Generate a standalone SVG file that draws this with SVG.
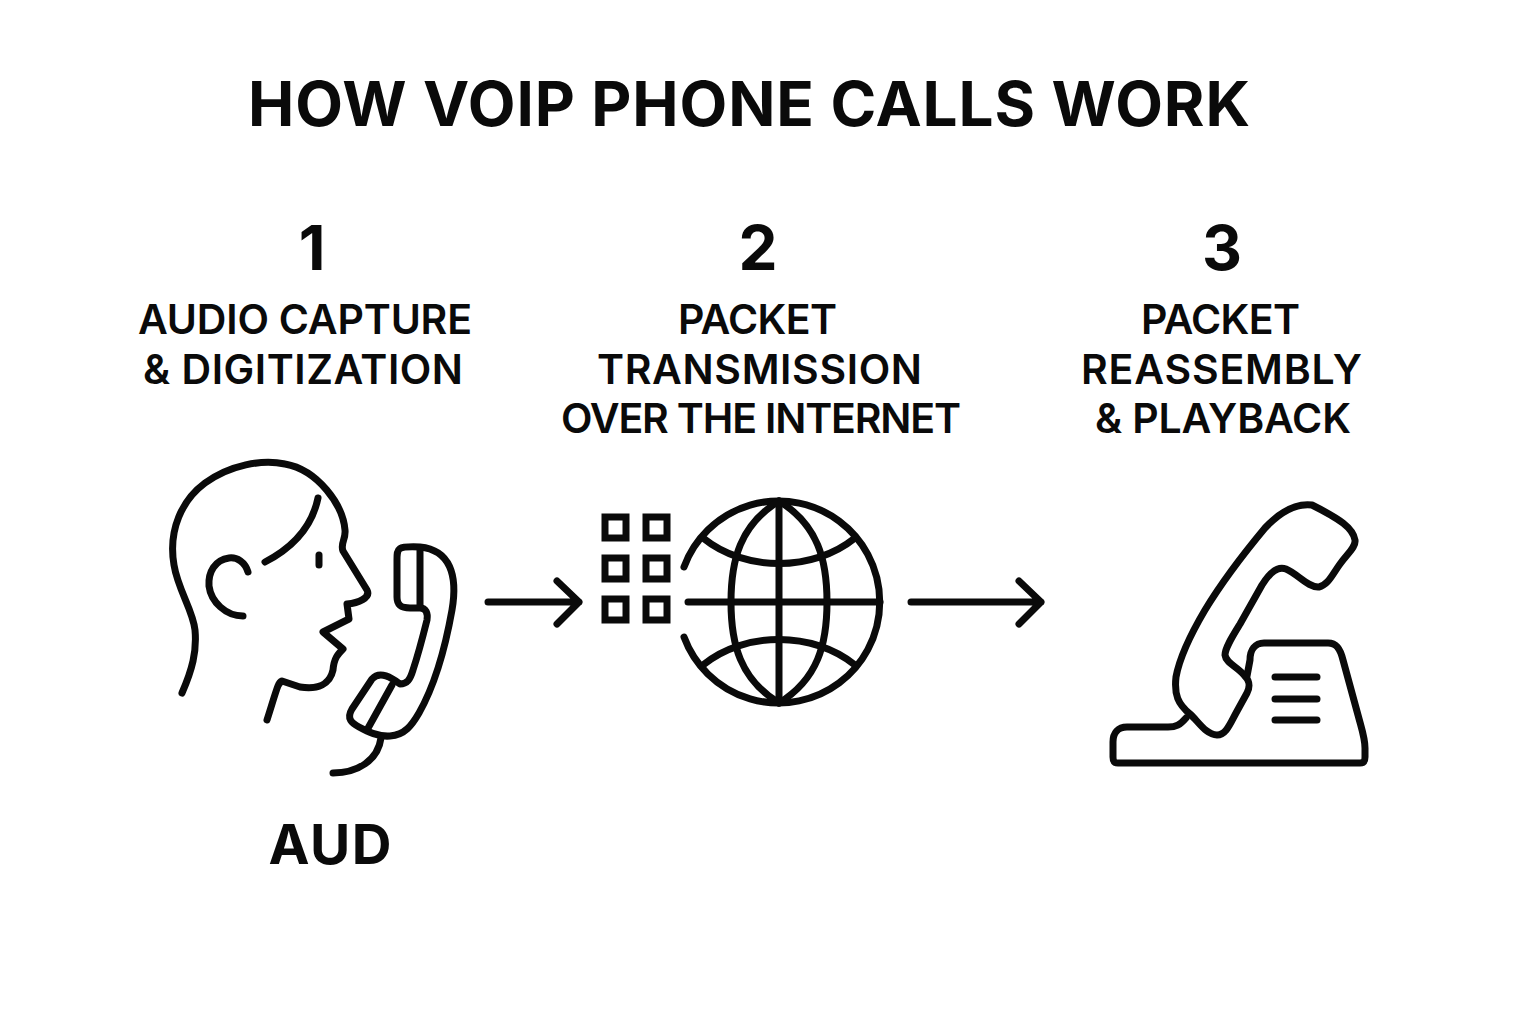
<svg xmlns="http://www.w3.org/2000/svg" width="1536" height="1024" viewBox="0 0 1536 1024">
<style>
.t{font-family:Inter,"Liberation Sans",sans-serif;fill:#0a0a0a;text-anchor:middle}
.title{font-size:62px;font-weight:700}
.num{font-size:62px;font-weight:700}
.lab{font-size:41px;font-weight:600}
.aud{font-size:55px;font-weight:700}
.s{fill:none;stroke:#0a0a0a;stroke-width:7;stroke-linecap:round;stroke-linejoin:round}
</style>
<rect width="1536" height="1024" fill="#fff"/>
<text class="t title" x="749" y="126" textLength="1002">HOW VOIP PHONE CALLS WORK</text>
<g id="step1">
<text class="t num" x="312" y="270">1</text>
<text class="t lab" x="305" y="334" textLength="334">AUDIO CAPTURE</text>
<text class="t lab" x="303" y="384" textLength="320">&amp; DIGITIZATION</text>
<g id="person" class="s">
<path d="M182,693C192,670 197,652 195,630C193,610 178,590 174,565C168,530 182,500 205,483C230,465 262,459 285,464C318,470 343,505 345,530C346,540 340,543 343,551L367,590C371,598 358,603 347,604L349,619L323,632L343,649C338,654 334,658 333,670C330,684 318,690 300,687L282,681C278,683 278,685 267,720"/>
<path d="M248,572C245,562 237,557 229,558C215,560 208,572 209,586C211,602 226,616 243,616"/>
<path d="M318,498C312,527 292,548 265,562"/>
<path d="M319,555V565"/>
<path d="M420,547C397,546 397,548 397,560V597C397,606 402,608 410,608H420C426,608 428,613 427,620C422,640 418,655 413,670C410,680 407,684 400,684C392,678 380,670 372,679L352,709C346,719 352,723 359,727C368,732 378,737 390,736C405,735 412,725 419,713C432,690 444,655 452,610C458,575 450,550 420,547Z"/>
<path d="M420,548V607"/>
<path d="M392,685L367,730"/>
<path d="M381,738C378,760 358,773 333,773"/>
</g>
</g>
<g id="step2">
<text class="t num" x="758" y="270">2</text>
<text class="t lab" x="757.500" y="334" textLength="159">PACKET</text>
<text class="t lab" x="759.500" y="384" textLength="325">TRANSMISSION</text>
<text class="t lab" x="761" y="433" textLength="400">OVER THE INTERNET</text>
<g id="packets" fill="none" stroke="#0a0a0a" stroke-width="7">
<rect x="605" y="517" width="21" height="21"/><rect x="646" y="517" width="21" height="21"/>
<rect x="605" y="558" width="21" height="21"/><rect x="646" y="558" width="21" height="21"/>
<rect x="605" y="599" width="21" height="21"/><rect x="646" y="599" width="21" height="21"/>
</g>
<g id="globe" class="s">
<path d="M684,567A101,101 0 1 1 684,637"/>
<path d="M688,602H880M779,501V703"/>
<path d="M779,501C740,525 731,560 731,602C731,644 740,679 779,703M779,501C818,525 827,560 827,602C827,644 818,679 779,703"/>
<path d="M703,538C745,572 813,572 855,538M703,665C745,631 813,631 855,665"/>
</g>
</g>
<g id="step3">
<text class="t num" x="1222" y="270">3</text>
<text class="t lab" x="1220.500" y="334" textLength="159">PACKET</text>
<text class="t lab" x="1221.500" y="384" textLength="281">REASSEMBLY</text>
<text class="t lab" x="1223" y="433" textLength="256">&amp; PLAYBACK</text>
<g id="telephone" class="s">
<path d="M1312,505C1296,503 1280,512 1265,528C1245,552 1222,582 1205,610C1192,632 1180,655 1176,677C1174,695 1178,704 1190,714C1198,721 1206,735 1217,735C1226,735 1230,724 1236,713L1247,693C1251,685 1249,680 1244,675C1236,666 1226,663 1225,655C1225,648 1232,637 1240,624L1262,585C1270,572 1278,566 1286,569C1298,574 1308,588 1319,587C1328,585 1332,575 1340,564C1348,553 1356,547 1355,540C1353,528 1340,519 1312,505Z"/>
<path d="M1186,718C1180,725 1176,727 1168,727H1127C1118,727 1113,733 1113,742V757C1113,762 1115,763 1118,763H1360C1364,763 1365,761 1365,757V748C1365,738 1362,730 1358,715L1343,660C1340,648 1336,643 1328,643H1264C1255,643 1250,650 1250,660L1247,676"/>
<path d="M1275,677H1317M1275,699H1317M1275,720H1317"/>
</g>
</g>
<g id="connectors" class="s">
<path d="M488,602H579M557,581L579,602L557,624"/>
<path d="M911,602H1041M1019,581L1041,602L1019,624"/>
</g>
<text id="aud" class="t aud" x="330" y="864" textLength="123">AUD</text>
</svg>
